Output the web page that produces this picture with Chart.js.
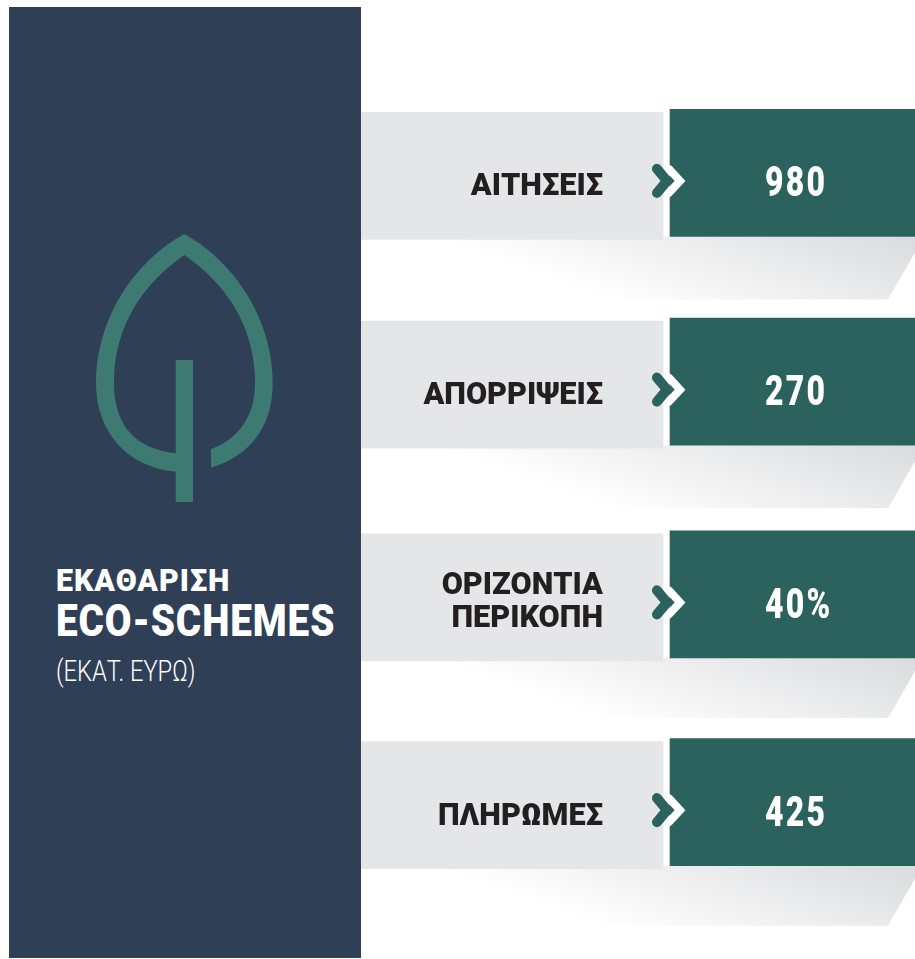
<!DOCTYPE html>
<html lang="el">
<head>
<meta charset="utf-8">
<title>Εκαθάριση eco-schemes</title>
<script src="https://cdn.jsdelivr.net/npm/chart.js@4"></script>
<style>
    body { margin: 0; background: #fff; width: 915px; height: 959px; overflow: hidden; position: relative; }
    #side { position: absolute; left: 9px; top: 7px; width: 352px; height: 951px; background: #2f3f56; }
    #leaf { position: absolute; left: 0; top: 0; }
    #board { position: absolute; left: 0; top: 0; }
    .side-text { position: absolute; left: 56px; color: #fff; font-family: Roboto, sans-serif; white-space: nowrap; transform-origin: 0 0; line-height: 1; }
</style>
</head>
<body>
<div id="side"></div>
<svg id="leaf" width="915" height="959">
    <path fill="#3d7a72" d="M184.3 234 C235 262 272.7 320 272.7 383 C272.7 425 252 455 211 467.7 L211 449.3 C240 438 255 415 255 383 C255 325 225 283 184.3 255 C144 283 114 325 114 383 C114 425 135 449 176 453.3 L176 471.7 C125 467 96 430 96 383 C96 320 133 262 184.3 234 Z"/>
    <rect fill="#3d7a72" x="175.7" y="360" width="17.3" height="142"/>
</svg>
<div class="side-text" style="top:564px;font-size:32px;font-weight:900;letter-spacing:1px;transform:scaleX(.95)">ΕΚΑΘΑΡΙΣΗ</div>
<div class="side-text" style="top:599px;font-size:44px;font-weight:900;letter-spacing:1px;transform:scaleX(.88)">ECO-SCHEMES</div>
<div class="side-text" style="top:656px;font-size:30px;font-weight:300;transform:scaleX(.79)">(ΕΚΑΤ. ΕΥΡΩ)</div>
<canvas id="board" width="915" height="959"></canvas>

<script>
const categories = [['ΑΙΤΗΣΕΙΣ'], ['ΑΠΟΡΡΙΨΕΙΣ'], ['ΟΡΙΖΟΝΤΙΑ', 'ΠΕΡΙΚΟΠΗ'], ['ΠΛΗΡΩΜΕΣ']];
const valueLabels = ['980', '270', '40%', '425'];

// panels are all the same length, the figure is only printed on them
const GREY_SPAN = [0, 0.5451];
const GREEN_SPAN = [0.5578, 1];
const ROW_NUDGE = [0, -1, 2, 0]; // rows in the original are not evenly spaced
const SHADOW_DEPTH = [63, 63, 60, 60];
const GREEN = '#2c625d';

const nudgeRows = {
    id: 'nudgeRows',
    afterDatasetsUpdate(chart) {
        chart.getDatasetMeta(0).data.forEach((bar, i) => { bar.y += ROW_NUDGE[i]; });
        chart.getDatasetMeta(1).data.forEach((bar, i) => { bar.y += ROW_NUDGE[i] - 3; });
    }
};

const shadows = {
    id: 'shadows',
    beforeDatasetsDraw(chart) {
        const c = chart.ctx;
        const right = chart.chartArea.right;
        chart.getDatasetMeta(0).data.forEach((bar, i) => {
            const top = bar.y + bar.height / 2 - 3;
            const depth = SHADOW_DEPTH[i];
            const grad = c.createLinearGradient(right, top, right - 52, top + 150);
            grad.addColorStop(0, '#dadbdd');
            grad.addColorStop(1, '#ffffff');
            c.save();
            c.fillStyle = grad;
            c.beginPath();
            c.moveTo(chart.chartArea.left, top);
            c.lineTo(right, top);
            c.lineTo(right, top + depth - 47);
            c.lineTo(right - 27, top + depth);
            c.lineTo(chart.chartArea.left, top + depth);
            c.closePath();
            c.fill();
            c.restore();
        });
    }
};

function chevron(c, x, y, reach, colour, width) {
    c.strokeStyle = colour;
    c.lineWidth = width;
    c.lineCap = 'round';
    c.lineJoin = 'miter';
    c.beginPath();
    c.moveTo(x, y - 12);
    c.lineTo(x + reach, y);
    c.lineTo(x, y + 12);
    c.stroke();
}

function squeezedText(c, text, x, y, squeeze, spacing) {
    c.save();
    c.translate(x, y);
    c.scale(squeeze, 1);
    c.letterSpacing = spacing + 'px';
    c.fillText(text, 0, 0);
    c.restore();
}

const labels = {
    id: 'labels',
    afterDatasetsDraw(chart) {
        const c = chart.ctx;
        const grey = chart.getDatasetMeta(0).data;
        const green = chart.getDatasetMeta(1).data;
        c.save();
        grey.forEach((bar, i) => {
            const mid = green[i].y;
            const lines = categories[i];
            chevron(c, bar.x + 6, mid + 8, 11, '#fff', 8);
            chevron(c, bar.x - 6, mid + 8, 10, GREEN, 10);

            c.fillStyle = '#231f20';
            c.font = '900 31px Roboto';
            c.textAlign = 'right';
            c.textBaseline = 'alphabetic';
            lines.forEach((line, k) => {
                const base = lines.length > 1 ? mid + 16.5 + (k - 0.5) * 33 : mid + 22.5;
                squeezedText(c, line, bar.x - 60, base, 0.99, 0);
            });

            c.fillStyle = '#fff';
            c.font = '900 42px Roboto';
            c.textAlign = 'left';
            squeezedText(c, valueLabels[i], 765, mid + 23.5, 0.76, 3);
        });
        c.restore();
    }
};

new Chart(document.getElementById('board'), {
    type: 'bar',
    data: {
        labels: categories,
        datasets: [
            { data: categories.map(() => GREY_SPAN), backgroundColor: '#e5e6e8', grouped: false, barThickness: 127 },
            { data: categories.map(() => GREEN_SPAN), backgroundColor: GREEN, grouped: false, barThickness: 127 }
        ]
    },
    options: {
        indexAxis: 'y',
        responsive: false,
        animation: false,
        layout: { padding: { left: 361, top: 71, bottom: 49, right: 0 } },
        plugins: { legend: { display: false }, tooltip: { enabled: false } },
        scales: {
            x: { display: false, min: 0, max: 1 },
            y: { display: false }
        }
    },
    plugins: [nudgeRows, shadows, labels]
});
</script>
</body>
</html>
